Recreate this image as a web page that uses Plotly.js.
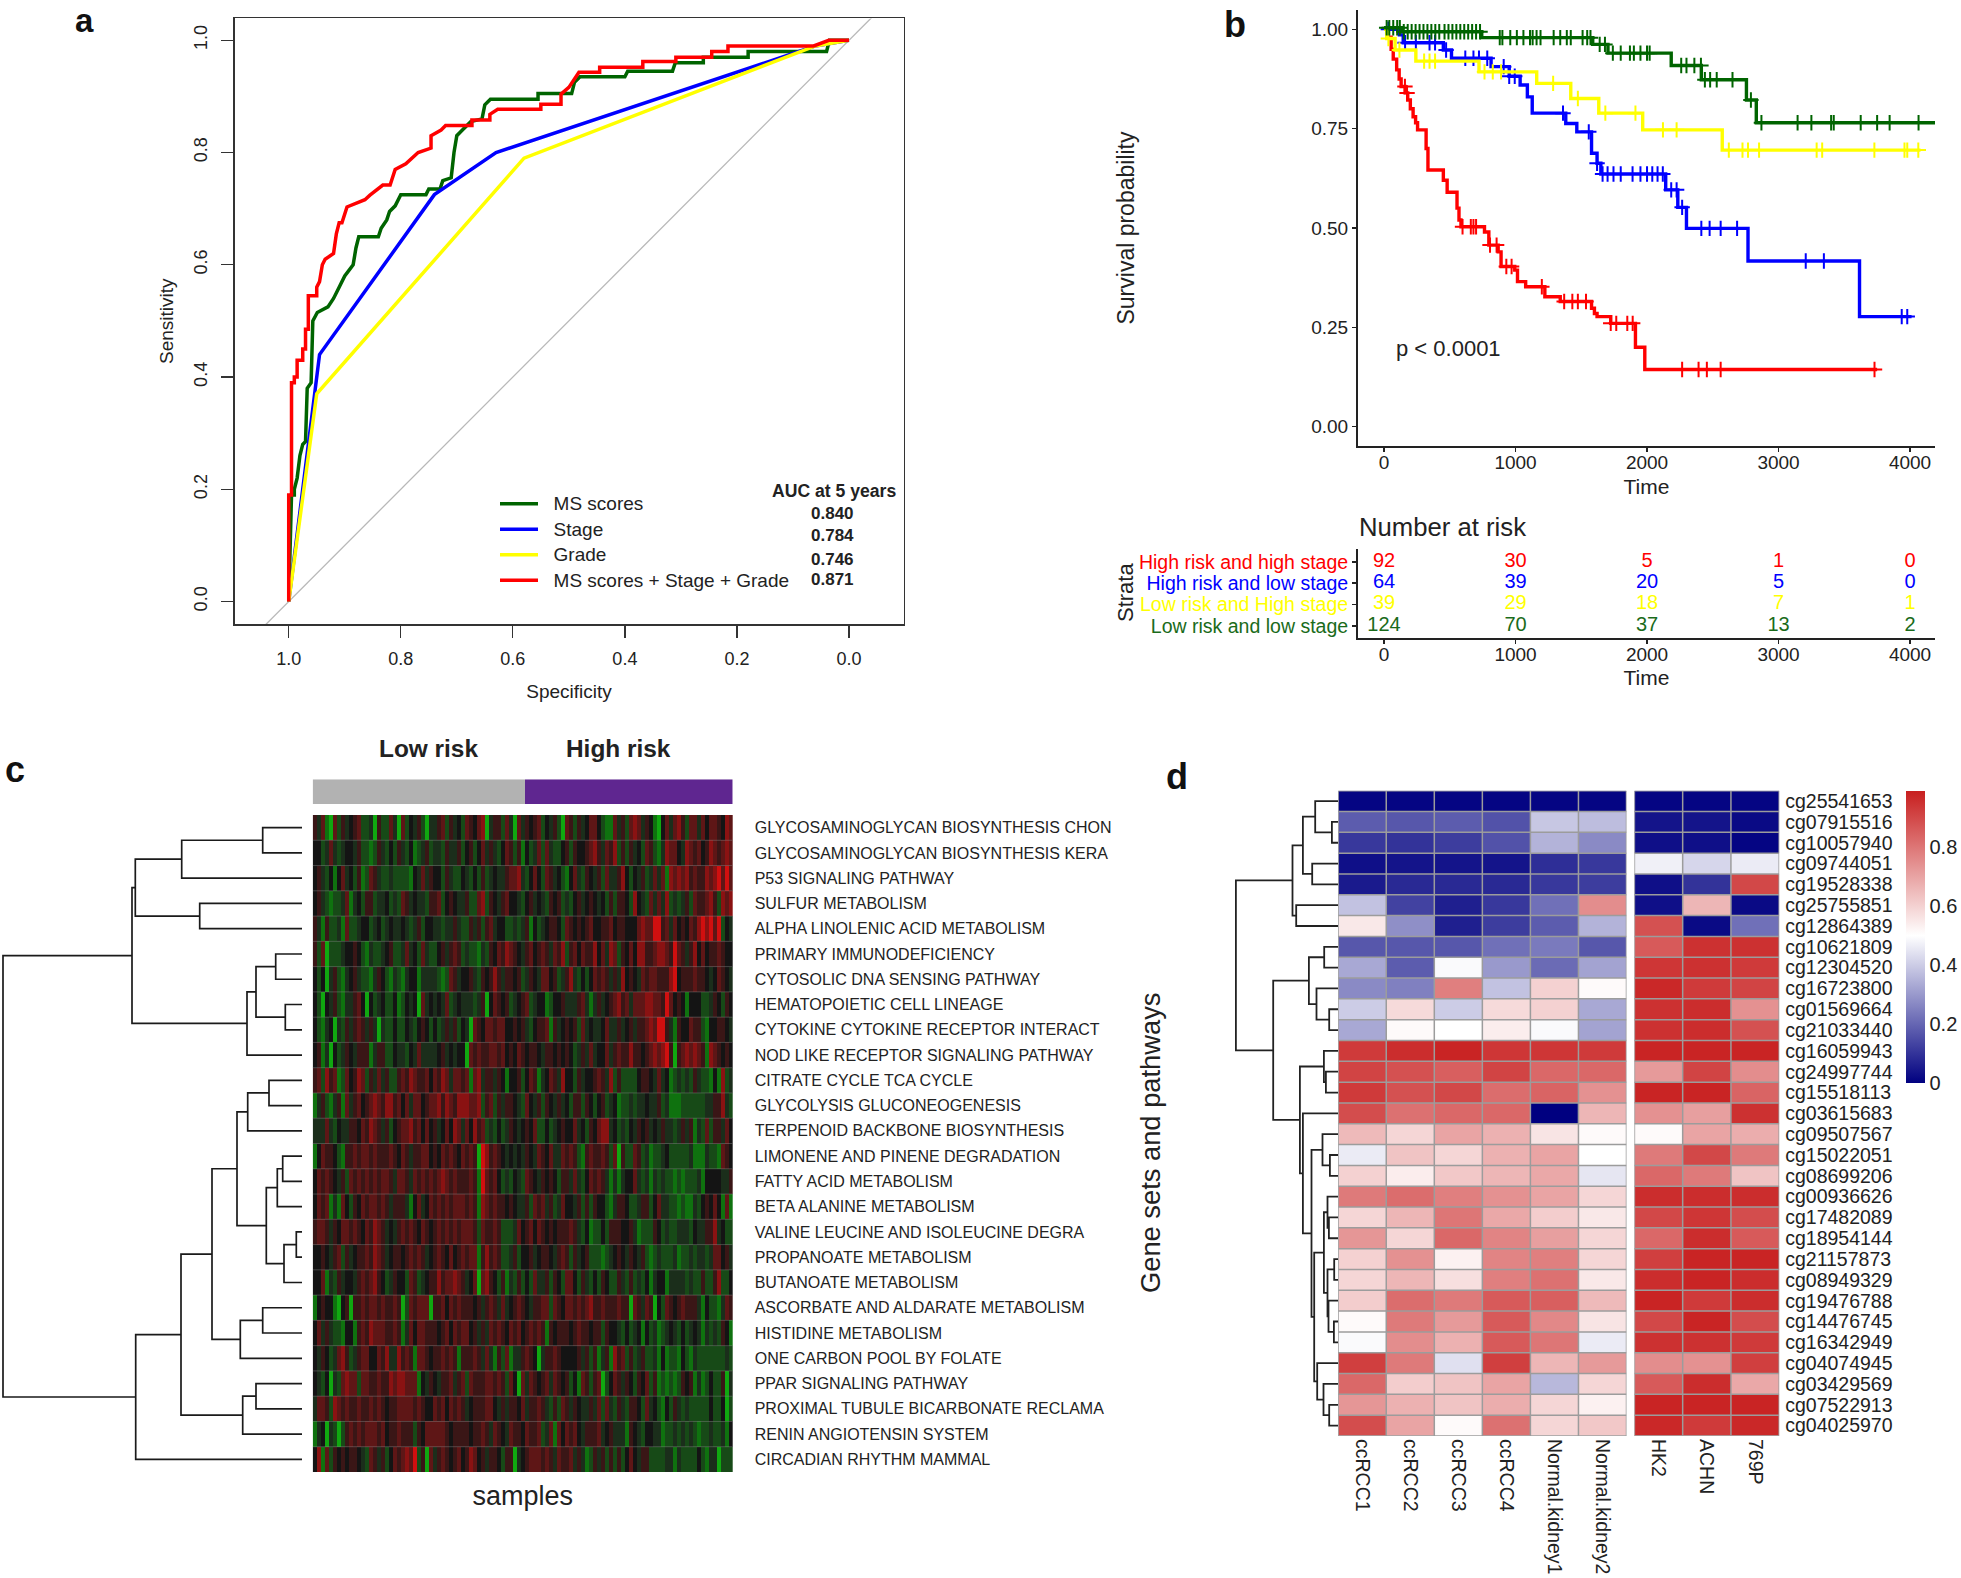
<!DOCTYPE html>
<html><head><meta charset="utf-8"><script src="https://cdn.plot.ly/plotly-3.0.1.min.js"></script>
<style>html,body{margin:0;padding:0;background:#fff}</style></head><body><div id="chart"></div>
<script>
// ---------- panel a: ROC curves (specificity, sensitivity) ----------
const rocNames=['MS scores','Stage','Grade','MS scores + Stage + Grade'];
const rocGreenX=[1,.995,.995,.99,.99,.985,.98,.975,.97,.967,.96,.957,.949,.93,.92,.91,.90,.885,.88,.875,.84,.835,.825,.82,.81,.80,.755,.75,.73,.725,.71,.705,.70,.69,.68,.675,.655,.65,.64,.555,.555,.495,.49,.48,.40,.395,.315,.31,.26,.26,.18,.18,.04,.035,0];
const rocGreenY=[0,.17,.19,.19,.20,.22,.26,.28,.285,.38,.39,.50,.515,.525,.54,.56,.58,.60,.63,.65,.65,.665,.68,.695,.705,.725,.725,.735,.735,.75,.755,.80,.83,.84,.85,.855,.86,.885,.895,.895,.905,.905,.925,.935,.935,.945,.945,.96,.96,.97,.97,.98,.98,1,1];
const rocBlueX=[1,.945,.74,.63,.06,0];
const rocBlueY=[0,.44,.725,.80,.99,1];
const rocYellowX=[1,.95,.58,.06,0];
const rocYellowY=[0,.37,.79,.99,1];
const rocRedX=[1,1,.995,.995,.99,.99,.985,.985,.975,.975,.97,.97,.965,.965,.95,.95,.945,.94,.935,.92,.915,.91,.905,.896,.864,.855,.832,.819,.81,.791,.769,.769,.746,.746,.728,.72,.673,.673,.641,.641,.627,.55,.55,.514,.514,.5,.49,.482,.445,.445,.368,.368,.309,.309,.245,.245,.216,.216,.063,.036,0];
const rocRedY=[0,.19,.19,.39,.39,.40,.40,.43,.43,.45,.45,.485,.485,.545,.545,.56,.57,.60,.61,.62,.655,.675,.675,.703,.716,.724,.742,.742,.77,.78,.80,.80,.808,.83,.84,.848,.848,.858,.858,.868,.877,.877,.886,.886,.904,.916,.93,.943,.943,.952,.952,.962,.962,.97,.97,.98,.98,.99,.99,1,1];
const rocDiagX=[1.2,-0.2], rocDiagY=[-0.2,1.2];
const aucHeader='AUC at 5 years';
const aucValues=['0.840','0.784','0.746','0.871'];

// ---------- panel b: survival curves (time, survival) ----------
const kmRedT=[0,30,54,70,96,115,130,160,180,200,221,240,255,320,334,451,480,555,570,585,764,797,868,890,994,1015,1077,1223,1340,1578,1600,1620,1724,1912,1983,3750];
const kmRedS=[1,.98,.95,.925,.898,.875,.856,.84,.822,.80,.78,.765,.747,.70,.646,.62,.59,.55,.52,.503,.49,.457,.44,.403,.394,.365,.352,.327,.315,.298,.285,.277,.26,.20,.144,.144];
const kmBlueT=[0,117,146,451,513,814,952,1035,1090,1127,1382,1466,1578,1620,1649,2142,2234,2300,2768,3616,4012];
const kmBlueS=[1,.986,.966,.948,.927,.906,.882,.86,.83,.789,.763,.742,.688,.663,.636,.596,.552,.499,.417,.277,.277];
const kmYellowT=[0,20,84,242,722,1161,1420,1633,1967,2572,4080];
const kmYellowS=[1,.977,.948,.92,.893,.864,.826,.789,.747,.696,.696];
const kmGreenT=[0,140,743,1587,1703,2184,2413,2756,2831,4190];
const kmGreenS=[1.004,.994,.979,.962,.94,.909,.873,.822,.765,.765];
const cenRed=[159,175,597,660,680,700,806,856,930,970,1200,1370,1432,1474,1536,1724,1766,1850,1891,2267,2392,2455,2560,3730];
const cenBlue=[33,160,242,346,388,472,618,680,722,785,910,952,994,1361,1557,1620,1662,1700,1745,1800,1890,1950,2000,2040,2080,2120,2184,2225,2267,2413,2476,2560,2685,3207,3345,3937,3979];
const cenYellow=[33,117,305,346,388,764,827,890,1286,1474,1683,1912,2121,2225,2622,2726,2768,2852,3290,3332,3729,3958,3979,4063];
const cenGreen=[20,40,70,100,120,150,180,210,240,270,300,330,360,390,420,460,490,520,550,580,610,640,670,700,730,880,900,960,1010,1060,1110,1130,1160,1190,1290,1340,1390,1420,1510,1545,1570,1640,1680,1740,1800,1870,1900,1950,2000,2020,2260,2300,2360,2410,2440,2480,2530,2650,2790,2870,3145,3250,3400,3420,3625,3750,3845,4065];
const strataNames=['High risk and high stage','High risk and low stage','Low risk and High stage','Low risk and low stage'];
const riskTimes=[0,1000,2000,3000,4000];
const riskRed=[92,30,5,1,0];
const riskBlue=[64,39,20,5,0];
const riskYellow=[39,29,18,7,1];
const riskGreen=[124,70,37,13,2];

// ---------- panel c: pathway heat map (one digit per stripe, 0 green .. 4 black .. 8 red) ----------
const pathways=['GLYCOSAMINOGLYCAN BIOSYNTHESIS CHON','GLYCOSAMINOGLYCAN BIOSYNTHESIS KERA','P53 SIGNALING PATHWAY','SULFUR METABOLISM','ALPHA LINOLENIC ACID METABOLISM','PRIMARY IMMUNODEFICIENCY','CYTOSOLIC DNA SENSING PATHWAY','HEMATOPOIETIC CELL LINEAGE','CYTOKINE CYTOKINE RECEPTOR INTERACT','NOD LIKE RECEPTOR SIGNALING PATHWAY','CITRATE CYCLE TCA CYCLE','GLYCOLYSIS GLUCONEOGENESIS','TERPENOID BACKBONE BIOSYNTHESIS','LIMONENE AND PINENE DEGRADATION','FATTY ACID METABOLISM','BETA ALANINE METABOLISM','VALINE LEUCINE AND ISOLEUCINE DEGRA','PROPANOATE METABOLISM','BUTANOATE METABOLISM','ASCORBATE AND ALDARATE METABOLISM','HISTIDINE METABOLISM','ONE CARBON POOL BY FOLATE','PPAR SIGNALING PATHWAY','PROXIMAL TUBULE BICARBONATE RECLAMA','RENIN ANGIOTENSIN SYSTEM','CIRCADIAN RHYTHM MAMMAL'];
const pathwayStripes=[
"5361062534 5622305226 3062435203 3562534265 4670355263 0635456243 5206525346 6421163526 7635410463 6752663646 6547655",
"4423632344 3522125324 2532412352 3325335245 2463532465 2514236263 2245254456 7536572525 3426521376 6437656457 6567678",
"4532414634 2512653223 2222143635 4425322432 4252343356 6732464265 3421463254 3526335742 4352363617 6767565576 7868667",
"4532122361 3425523342 3265343325 5624543352 2672543564 4324534325 4523245345 4342525542 7432636372 3235265567 5276775",
"5315223162 2344234234 3343235244 3323353225 3525634422 3235142345 5426545456 4455645544 4676688563 6454657878 6824351",
"5260222344 5421322345 2236342632 2453565232 2132546576 5435645653 6572564655 7463762546 4775567765 8653574645 5654453",
"4240352134 5322135421 3213441333 3212653445 3254575355 4523543664 5235732424 6565353745 4365665557 8455565543 4654345",
"4204352133 5640423422 4124340634 3436234333 2350465452 3456234412 4453335631 3534567563 6667766586 4541444223 5425454",
"4213403253 5653530322 4224324542 4235352430 6546656644 5453245561 5345452634 3346335345 3556768853 1544655214 4554325",
"4513042354 3555135522 4332436333 3453434406 5655665645 4654554355 4545423536 3446356557 5545676785 0567676517 6545444",
"5627561264 5762536352 2565765564 6576366561 6735535414 4524651346 5374425344 5653725222 2455436341 2323253221 4172323",
"1352135163 5645676577 5646366456 6757657776 6725625355 4326435254 3534255254 2452341223 2334335231 1122222233 5573240",
"3336324335 5465765352 4566756464 5346476364 7562324235 4345462242 3454463425 4677342324 3545343533 2353513262 5536454",
"1465542155 6566565556 5465355664 5465654656 5087565434 3435436546 3365652156 5565260522 6523122342 2222311132 2165442",
"4656543526 5656565665 3665365656 5676565556 5186564232 4326543545 4255363246 5653131344 6323132322 1212223144 4433531",
"4656131642 5465665653 5553146346 5656566656 5176565545 4335265635 2364435252 5442135542 2355246332 2121132454 6416141",
"5665354665 6546576534 3565654654 5656565666 5265565222 3645646545 4555653241 2242555445 3122254232 2333243355 7342232",
"4454356253 4556576534 5545656534 5654645656 6157565223 5244534554 3565253452 2212345435 4352123222 3122323323 6645322",
"4461325344 3565675423 5442652345 5756676534 6067542513 2524263352 5426642532 4254225325 2324134413 3332322522 5722423",
"1454410450 5565665655 6502656660 5564656555 4535653634 5654355662 6546656567 5565556550 6536504265 4565553142 2136520",
"4635322144 1565766655 6513646655 5456465664 5353656546 5645656515 4555456554 5525443242 3414231234 3242343132 3254140",
"4354236752 3566446573 3756516654 5565651555 6536315261 3356540355 6544445352 5135175625 2352231412 2142132222 2223226",
"4324032676 6266556557 6776661435 4355635626 5556656526 4063654563 6545241652 5602465354 2546251212 1254513124 2250330",
"3665276565 5655656545 5666656544 6564656534 5556643535 5463556532 5265354335 3626325325 5426342142 5323222224 2240200",
"1340320256 5656665645 5655525466 6665455554 5565365436 5546556236 1646564355 5634533315 4324433122 3232321223 2231444",
"4716254545 5432653524 6567682506 3565456457 6453554255 0345666565 3655635312 5352525246 4355222233 1322224213 3022245"];
const lowRiskStripes=53, highRiskStripes=52;
// merge tree: [height, childA, childB]; a number is a row index
const pathwayTree=[299,
 [170,[166.7,[120.3,[39.3,0,1],2],[102.3,3,4]],[55,[46,[26.3,5,6],[16.7,7,8]],9]],
 [166.3,[121,[90,[65,[54.3,[33,10,11],12],[35.7,[24.7,[19.3,13,14],15],[18,[5.7,16,17],18]]],[61.7,[39.3,19,20],21]],[59.3,[46,22,23],24]],25]];

// ---------- panel d: methylation heat map ----------
const probes=['cg25541653','cg07915516','cg10057940','cg09744051','cg19528338','cg25755851','cg12864389','cg10621809','cg12304520','cg16723800','cg01569664','cg21033440','cg16059943','cg24997744','cg15518113','cg03615683','cg09507567','cg15022051','cg08699206','cg00936626','cg17482089','cg18954144','cg21157873','cg08949329','cg19476788','cg14476745','cg16342949','cg04074945','cg03429569','cg07522913','cg04025970'];
const tissueSamples=['ccRCC1','ccRCC2','ccRCC3','ccRCC4','Normal.kidney1','Normal.kidney2'];
const cellLines=['HK2','ACHN','769P'];
const tissueBeta=[
[.01,.01,.01,.01,.01,.01],[.18,.17,.18,.16,.39,.37],[.11,.10,.12,.16,.35,.27],[.03,.04,.04,.04,.09,.11],[.05,.08,.08,.08,.11,.12],[.38,.13,.06,.11,.22,.75],[.55,.28,.06,.12,.18,.35],[.17,.17,.17,.22,.24,.17],[.33,.18,.49,.30,.21,.32],[.27,.25,.78,.38,.60,.51],[.40,.58,.40,.58,.60,.33],[.33,.51,.50,.54,.49,.32],[.93,.96,.98,.94,.94,.93],[.91,.88,.85,.91,.83,.83],[.93,.88,.90,.82,.84,.74],[.89,.81,.83,.83,.00,.66],[.65,.59,.70,.67,.56,.51],[.46,.63,.59,.67,.70,.50],[.60,.54,.62,.66,.69,.45],[.79,.82,.78,.74,.70,.59],[.59,.66,.80,.69,.61,.55],[.73,.59,.83,.77,.71,.59],[.60,.74,.53,.77,.78,.59],[.59,.66,.57,.78,.81,.55],[.61,.82,.79,.86,.85,.65],[.51,.79,.72,.86,.76,.56],[.49,.75,.67,.86,.80,.46],[.92,.79,.44,.92,.66,.72],[.83,.61,.63,.70,.36,.59],[.73,.67,.63,.68,.59,.53],[.89,.70,.51,.81,.59,.62]];
const cellBeta=[
[.01,.01,.01],[.04,.04,.02],[.03,.03,.01],[.47,.42,.46],[.03,.10,.90],[.03,.66,.02],[.88,.02,.22],[.86,.95,.95],[.94,.95,.93],[.97,.93,.91],[.95,.96,.74],[.95,.96,.88],[.98,.98,.98],[.72,.91,.75],[.98,.98,.84],[.74,.71,.95],[.51,.70,.68],[.79,.90,.79],[.83,.79,.63],[.96,.96,.96],[.90,.94,.89],[.83,.96,.86],[.92,.98,.98],[.96,.98,.96],[.98,.93,.96],[.90,.98,.89],[.95,.95,.93],[.75,.74,.92],[.86,.96,.69],[.98,.98,.98],[.97,.93,.97]];
const probeTree=[102.3,
 [45.7,[35.3,[23,0,[6.3,1,2]],[26,3,4]],[42,5,6]],
 [65,[29.3,[14,7,8],[21.7,9,[9,10,11]]],
  [38.3,[14.3,12,[12.3,13,14]],
   [35.3,15,[26.7,[15.7,16,[8.3,17,18]],
     [24,[14.3,[10.7,19,[9.3,20,21]],[10.7,[4,22,23],[9.7,24,[4.3,25,26]]]],
      [21,27,[14.7,28,[9,29,30]]]]]]]]];

// ---------- drawing ----------
const W=1961,H=1578,FONT='"Liberation Sans",Arial,sans-serif';
const dx=(a,b)=>[a/W,b/W], dy=(t,b)=>[1-b/H,1-t/H];
const cGreen='#006400',cBlue='#0000ff',cYellow='#ffff00',cRed='#ff0000';
const stepAt=(T,S,t)=>{let v=S[0];for(let i=0;i<T.length;i++){if(T[i]<=t)v=S[i];}return v;};
function treeLines(tree){const xs=[],ys=[];
  (function walk(n){if(typeof n==='number')return{h:0,y:n};
    const A=walk(n[1]),B=walk(n[2]);
    xs.push(A.h,n[0],n[0],B.h,null);ys.push(A.y,A.y,B.y,B.y,null);
    return{h:n[0],y:(A.y+B.y)/2};})(tree);
  return{x:xs,y:ys};}
function cellGrid(nCols,nRows){const xs=[],ys=[];
  for(let r=0;r<=nRows;r++){xs.push(-.5,nCols-.5,null);ys.push(r-.5,r-.5,null);}
  for(let c=0;c<=nCols;c++){xs.push(c-.5,c-.5,null);ys.push(-.5,nRows-.5,null);}
  return{x:xs,y:ys};}
const rowIdx=a=>a.map((_,i)=>i);
const traces=[];
// panel a
traces.push({x:rocDiagX,y:rocDiagY,mode:'lines',line:{color:'#b8b8b8',width:1.3},showlegend:false,xaxis:'x',yaxis:'y'});
[[rocGreenX,rocGreenY,cGreen],[rocBlueX,rocBlueY,cBlue],[rocYellowX,rocYellowY,cYellow],[rocRedX,rocRedY,cRed]].forEach((s,i)=>{
  traces.push({x:s[0],y:s[1],name:'<span style="font-size:19px">&nbsp;&nbsp;'+rocNames[i]+'</span>',mode:'lines',line:{color:s[2],width:3.5},xaxis:'x',yaxis:'y'});});
// panel b
[[kmRedT,kmRedS,cenRed,cRed],[kmBlueT,kmBlueS,cenBlue,cBlue],[kmYellowT,kmYellowS,cenYellow,cYellow],[kmGreenT,kmGreenS,cenGreen,cGreen]].forEach(s=>{
  traces.push({x:s[0],y:s[1],mode:'lines',line:{color:s[3],width:3.4,shape:'hv'},showlegend:false,xaxis:'x2',yaxis:'y2'});
  traces.push({x:s[2],y:s[2].map(t=>stepAt(s[0],s[1],t)),mode:'markers',marker:{symbol:'cross-thin',size:11,line:{color:s[3],width:2}},showlegend:false,xaxis:'x2',yaxis:'y2'});
});
// risk table
const riskColors=[cRed,cBlue,cYellow,'#1a6b1a'];
[riskRed,riskBlue,riskYellow,riskGreen].forEach((vals,i)=>{
  traces.push({x:riskTimes,y:riskTimes.map(()=>i),text:vals.map(String),mode:'text',textposition:'middle center',textfont:{family:FONT,size:20,color:riskColors[i]},showlegend:false,xaxis:'x3',yaxis:'y3'});
});
// panel c
const pathwayZ=pathwayStripes.map(r=>r.replace(/ /g,'').split('').map(Number));
const nStripes=lowRiskStripes+highRiskStripes;
traces.push(Object.assign(treeLines(pathwayTree),{mode:'lines',line:{color:'#1a1a1a',width:1.7},showlegend:false,xaxis:'x4',yaxis:'y4'}));
traces.push({type:'heatmap',z:pathwayZ,y:rowIdx(pathways),zmin:0,zmax:8,showscale:false,
  colorscale:[[0,'#10a810'],[.125,'#0f720f'],[.25,'#174a17'],[.375,'#1b2e1b'],[.5,'#141414'],[.625,'#3a1616'],[.75,'#5e1616'],[.875,'#8a1212'],[1,'#d00f0f']],xaxis:'x5',yaxis:'y5'});
(function(){const xs=[],ys=[];for(let r=1;r<pathways.length;r++){xs.push(-.5,nStripes-.5,null);ys.push(r-.5,r-.5,null);}
  traces.push({x:xs,y:ys,mode:'lines',line:{color:'rgba(130,130,130,.45)',width:1},showlegend:false,xaxis:'x5',yaxis:'y5'});})();
traces.push({type:'heatmap',z:[Array(lowRiskStripes).fill(0).concat(Array(highRiskStripes).fill(1))],y:[0],zmin:0,zmax:1,showscale:false,colorscale:[[0,'#b2b2b2'],[1,'#5f2690']],xaxis:'x6',yaxis:'y6'});
// panel d
const betaScale=[[0,'#000080'],[.505,'#ffffff'],[1,'#c81f1f']];
traces.push(Object.assign(treeLines(probeTree),{mode:'lines',line:{color:'#222',width:1.8},showlegend:false,xaxis:'x7',yaxis:'y8'}));
traces.push({type:'heatmap',z:tissueBeta,y:rowIdx(probes),zmin:0,zmax:.99,colorscale:betaScale,
  colorbar:{x:1906/W,xanchor:'left',y:1-790.7/H,yanchor:'top',lenmode:'pixels',len:292.3,thicknessmode:'pixels',thickness:19,xpad:0,ypad:0,outlinewidth:0,ticks:'',tickvals:[0,.2,.4,.6,.8],ticktext:['0','0.2','0.4','0.6','0.8'],tickfont:{family:FONT,size:20,color:'#222'},ticklabelstandoff:8},xaxis:'x8',yaxis:'y8'});
traces.push({type:'heatmap',z:cellBeta,y:rowIdx(probes),zmin:0,zmax:.99,colorscale:betaScale,showscale:false,xaxis:'x9',yaxis:'y8'});
[[tissueSamples,'x8'],[cellLines,'x9']].forEach(s=>{
  traces.push(Object.assign(cellGrid(s[0].length,probes.length),{mode:'lines',line:{color:'#9c9c9c',width:1.5},showlegend:false,xaxis:s[1],yaxis:'y8'}));
});

const hidden={visible:false,fixedrange:true,zeroline:false,showgrid:false};
const rInk='#222';
const layout={
 width:W,height:H,margin:{l:0,r:0,t:0,b:0},paper_bgcolor:'#fff',plot_bgcolor:'#fff',showlegend:true,hovermode:false,
 font:{family:FONT,color:rInk},
 legend:{x:495/W,y:1-486/H,xanchor:'left',yanchor:'top',bgcolor:'rgba(0,0,0,0)',font:{family:FONT,size:17.3,color:rInk},itemwidth:38,traceorder:'normal'},
 // a
 xaxis:{domain:dx(234.6,903.5),range:[1.0966,-0.0973],tickvals:[1,.8,.6,.4,.2,0],ticktext:['1.0','0.8','0.6','0.4','0.2','0.0'],ticks:'outside',ticklen:12,tickwidth:1.3,tickcolor:'#333',tickfont:{size:18},showline:true,mirror:true,linecolor:'#333',linewidth:1.5,showgrid:false,zeroline:false,anchor:'y',ticklabelstandoff:6,
   title:{text:'Specificity',font:{size:19},standoff:16}},
 yaxis:{domain:dy(18.4,624),range:[-0.04,1.039],tickvals:[0,.2,.4,.6,.8,1],ticktext:['0.0','0.2','0.4','0.6','0.8','1.0'],tickangle:-90,ticks:'outside',ticklen:12,tickwidth:1.3,tickcolor:'#333',tickfont:{size:18},ticklabelstandoff:7,showline:true,mirror:true,linecolor:'#333',linewidth:1.5,showgrid:false,zeroline:false,anchor:'x',
   title:{text:'Sensitivity',font:{size:19},standoff:12}},
 // b
 xaxis2:{domain:dx(1358,1935),range:[-198,4190],tickvals:riskTimes,ticks:'outside',ticklen:4,tickwidth:1.5,tickcolor:'#222',tickfont:{size:19},ticklabelstandoff:-6,showline:true,linecolor:'#222',linewidth:2,showgrid:false,zeroline:false,anchor:'y2',
   title:{text:'Time',font:{size:21},standoff:8}},
 yaxis2:{domain:dy(10,446),range:[-0.0486,1.0486],tickvals:[0,.25,.5,.75,1],ticktext:['0.00','0.25','0.50','0.75','1.00'],ticks:'outside',ticklen:4,tickwidth:1.5,tickcolor:'#222',tickfont:{size:19},showline:true,linecolor:'#222',linewidth:2,showgrid:false,zeroline:false,anchor:'x2',
   title:{text:'Survival probability',font:{size:23},standoff:170}},
 xaxis3:{domain:dx(1358,1935),range:[-198,4190],tickvals:riskTimes,ticks:'outside',ticklen:4,tickwidth:1.5,tickcolor:'#222',tickfont:{size:19},ticklabelstandoff:-6,showline:true,linecolor:'#222',linewidth:2,showgrid:false,zeroline:false,anchor:'y3',
   title:{text:'Time',font:{size:21},standoff:7}},
 yaxis3:{domain:dy(549,637.7),range:[3.56,-.6],tickvals:[0,1,2,3],ticktext:strataNames.map((s,i)=>'<span style="color:'+riskColors[i]+'">'+s+'</span>'),ticks:'outside',ticklen:4,tickwidth:1.5,tickcolor:'#222',tickfont:{size:19.5},showline:true,linecolor:'#222',linewidth:2,showgrid:false,zeroline:false,anchor:'x3'},
 // c
 xaxis4:Object.assign({},hidden,{domain:dx(0,302),range:[302,0],anchor:'y4'}),
 yaxis4:Object.assign({},hidden,{domain:dy(815,1472),range:[25.5,-.5],anchor:'x4'}),
 xaxis5:{domain:dx(312.7,732.7),range:[-.5,nStripes-.5],showticklabels:false,ticks:'',showgrid:false,zeroline:false,anchor:'y5',title:{text:'samples',font:{size:27},standoff:14}},
 yaxis5:{domain:dy(815,1472),range:[25.5,-.5],side:'right',tickvals:rowIdx(pathways),ticktext:pathways,ticks:'',tickfont:{size:16},ticklabelstandoff:21,showgrid:false,zeroline:false,anchor:'x5'},
 xaxis6:Object.assign({},hidden,{domain:dx(312.7,732.7),range:[-.5,nStripes-.5],anchor:'y6'}),
 yaxis6:Object.assign({},hidden,{domain:dy(779.3,804),range:[-.5,.5],anchor:'x6'}),
 // d
 xaxis7:Object.assign({},hidden,{domain:dx(1220,1338.2),range:[118.2,0],anchor:'y8'}),
 xaxis8:{domain:dx(1338.2,1626.5),range:[-.5,5.5],tickvals:rowIdx(tissueSamples),ticktext:tissueSamples,tickangle:90,ticks:'',tickfont:{size:19.5},ticklabelstandoff:2,showgrid:false,zeroline:false,anchor:'y8'},
 xaxis9:{domain:dx(1634.4,1779.2),range:[-.5,2.5],tickvals:rowIdx(cellLines),ticktext:cellLines,tickangle:90,ticks:'',tickfont:{size:19.5},ticklabelstandoff:2,showgrid:false,zeroline:false,anchor:'y8'},
 yaxis8:{domain:dy(790.7,1436),range:[30.5,-.5],side:'right',tickvals:rowIdx(probes),ticktext:probes,ticks:'',tickfont:{size:19.5},ticklabelstandoff:5,showgrid:false,zeroline:false,anchor:'x9'},
 annotations:[]
};
const note=(text,px,py,size,opts)=>layout.annotations.push(Object.assign({text,x:px/W,y:1-py/H,xref:'paper',yref:'paper',showarrow:false,xanchor:'center',yanchor:'middle',font:{family:FONT,size,color:rInk}},opts||{}));
const bold=t=>'<b>'+t+'</b>';
note(bold('a'),84,0,33,{yanchor:'top',font:{family:FONT,size:33,color:'#111'}});
note(bold('b'),1235,24,36,{font:{family:FONT,size:36,color:'#111'}});
note(bold('c'),15,769,36,{font:{family:FONT,size:36,color:'#111'}});
note(bold('d'),1177,777,36,{font:{family:FONT,size:36,color:'#111'}});
note(bold(aucHeader),834,491,17.6);
[513,536,559,579].forEach((py,i)=>note(bold(aucValues[i]),832.5,py,17));
note('p &lt; 0.0001',1448.5,348,22);
note('Number at risk',1442,526.7,25.7);
note('Strata',1125,593,22,{textangle:-90});
note(bold('Low risk'),428,749,24.4);
note(bold('High risk'),618,749,24.4);
note('Gene sets and pathways',1150,1143,27.3,{textangle:-90});
Plotly.newPlot('chart',traces,layout,{displayModeBar:false,staticPlot:true});
</script></body></html>
